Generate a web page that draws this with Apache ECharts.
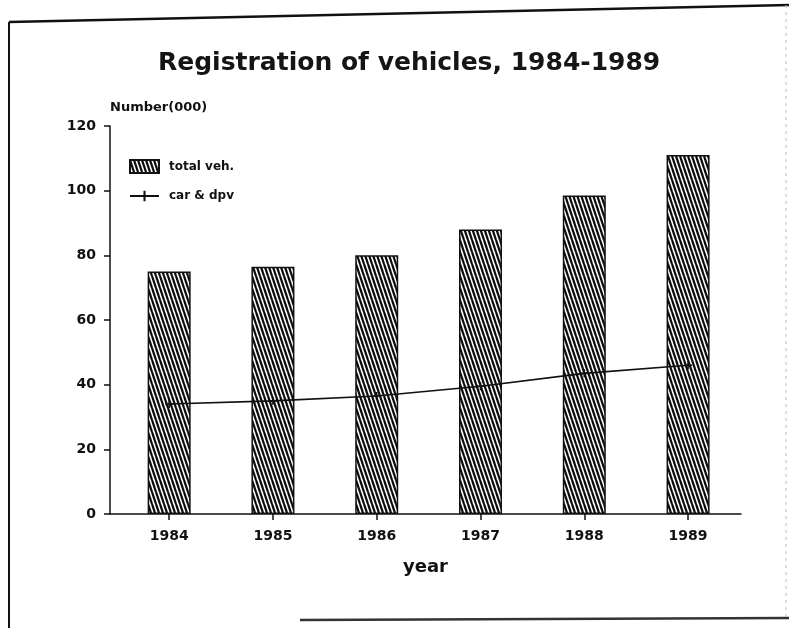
<!DOCTYPE html>
<html>
<head>
<meta charset="utf-8">
<script src="https://cdn.jsdelivr.net/npm/echarts@6/dist/echarts.min.js"></script>
<style>
html,body{margin:0;padding:0;background:#fff;}
#chart{width:789px;height:628px;}
</style>
</head>
<body>
<div id="chart"></div>
<script>
// ---- data ----
var years = [1984, 1985, 1986, 1987, 1988, 1989];
var totalVeh = [75, 76.5, 80, 88, 98.5, 111];
var carDpv = [34, 35, 36.5, 39.5, 43.5, 46];
var yTicks = [0, 20, 40, 60, 80, 100, 120];

// hatch pattern
function makeHatch() {
  var c = document.createElement('canvas');
  c.width = 4; c.height = 12;
  var g = c.getContext('2d');
  g.fillStyle = '#fff';
  g.fillRect(0, 0, 4, 12);
  g.strokeStyle = '#0a0a0a';
  g.lineWidth = 2.2;
  for (var k = -1; k <= 1; k++) {
    g.beginPath();
    g.moveTo(k * 4, 0);
    g.lineTo(k * 4 + 4, 12);
    g.stroke();
  }
  return c;
}
var hatch = makeHatch();

var font = "'DejaVu Sans', 'Liberation Sans', Arial, sans-serif";
var chart = echarts.init(document.getElementById('chart'), null, {renderer: 'canvas'});

chart.setOption({
  backgroundColor: '#fff',
  animation: false,
  title: {
    text: 'Registration of vehicles, 1984-1989',
    left: 153,
    top: 46,
    textStyle: {fontFamily: font, fontSize: 25, fontWeight: 'bold', color: '#151515'}
  },
  legend: {
    orient: 'vertical',
    left: 124,
    top: 154,
    itemWidth: 29,
    itemHeight: 13,
    itemGap: 16,
    textStyle: {fontFamily: font, fontSize: 12, fontWeight: 'bold', color: '#111', padding: [0, 0, 0, 5]},
    data: [{name: 'total veh.', icon: 'rect'}, {name: 'car & dpv'}]
  },
  grid: {left: 110, right: 48, top: 126, bottom: 114, containLabel: false},
  xAxis: {
    type: 'value',
    min: 1983.43,
    max: 1989.51,
    name: 'year',
    nameLocation: 'middle',
    nameGap: 44,
    nameTextStyle: {fontFamily: font, fontSize: 18, fontWeight: 'bold', color: '#111'},
    axisLine: {lineStyle: {color: '#111', width: 1.5}},
    axisTick: {show: true, length: 6, customValues: years, lineStyle: {color: '#111', width: 1.5}},
    axisLabel: {
      customValues: years,
      margin: 15,
      fontFamily: font, fontSize: 14, fontWeight: 'bold', color: '#111',
      formatter: function (v) { return String(Math.round(v)); }
    },
    splitLine: {show: false}
  },
  yAxis: {
    type: 'value',
    min: 0,
    max: 120,
    interval: 20,
    name: 'Number(000)',
    nameLocation: 'end',
    nameGap: 12,
    nameTextStyle: {fontFamily: font, fontSize: 13, fontWeight: 'bold', color: '#111', align: 'left'},
    axisLine: {show: true, lineStyle: {color: '#111', width: 1.5}},
    axisTick: {show: true, length: 6, lineStyle: {color: '#111', width: 1.5}},
    axisLabel: {
      margin: 14,
      fontFamily: font, fontSize: 14, fontWeight: 'bold', color: '#111',
      customValues: yTicks
    },
    splitLine: {show: false}
  },
  series: [
    {
      name: 'total veh.',
      type: 'bar',
      barWidth: 43,
      data: years.map(function (y, i) { return [y, totalVeh[i]]; }),
      itemStyle: {color: {image: hatch, repeat: 'repeat'}, borderColor: '#111', borderWidth: 1.5}
    },
    {
      name: 'car & dpv',
      type: 'line',
      data: years.map(function (y, i) { return [y, carDpv[i]]; }),
      symbol: 'path://M4,0H6V4H10V6H6V10H4V6H0V4H4Z',
      symbolSize: 8,
      itemStyle: {color: '#111'},
      lineStyle: {color: '#111', width: 1.6},
      z: 5
    }
  ],
  graphic: [
    {type: 'line', shape: {x1: 9, y1: 22, x2: 789, y2: 5}, style: {stroke: '#111', lineWidth: 2.5}, silent: true},
    {type: 'line', shape: {x1: 9, y1: 22, x2: 9, y2: 628}, style: {stroke: '#111', lineWidth: 2}, silent: true},
    {type: 'line', shape: {x1: 300, y1: 620, x2: 789, y2: 618}, style: {stroke: '#333', lineWidth: 2.5}, silent: true},
    {type: 'line', shape: {x1: 786, y1: 5, x2: 786, y2: 618}, style: {stroke: '#bbb', lineWidth: 1, lineDash: [3, 4]}, silent: true}
  ]
});
</script>
</body>
</html>
